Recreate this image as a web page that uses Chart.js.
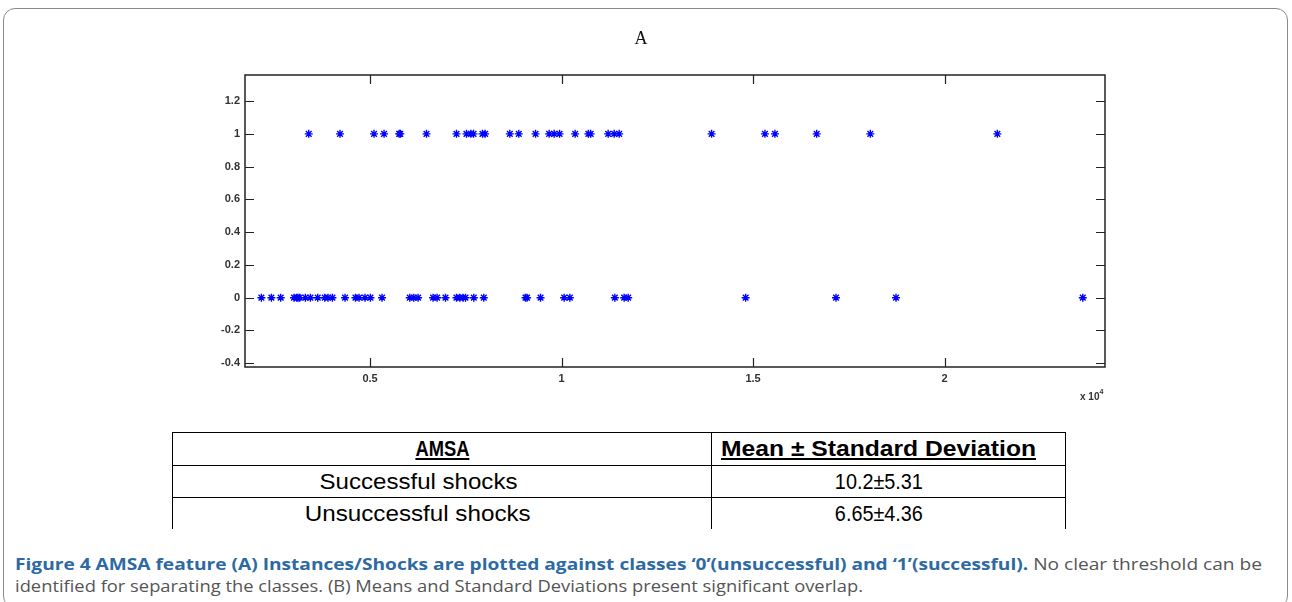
<!DOCTYPE html>
<html>
<head>
<meta charset="utf-8">
<script src="https://cdn.jsdelivr.net/npm/chart.js@4.4.1/dist/chart.umd.min.js"></script>
<style>
  html, body { margin:0; padding:0; background:#fff; }
  body { width:1292px; height:602px; position:relative; overflow:hidden; }
  #frame { position:absolute; left:3px; top:8px; width:1285px; height:600px; border:1px solid #8a8a8a; border-radius:12px; box-sizing:border-box; }
  #wrap { position:absolute; left:0; top:0; width:1292px; height:420px; }
  #title { position:absolute; top:28px; left:0; width:1282px; text-align:center; font-family:"Liberation Serif","DejaVu Serif",serif; font-size:18px; color:#111; }
  #x10 { position:absolute; left:1080px; top:390px; font-family:"Liberation Sans",Arial,sans-serif; font-size:10px; color:#333; font-weight:bold; }
  #x10 sup { font-size:7px; position:relative; top:-2px; }
  table { position:absolute; left:172px; top:432px; width:894px; border-collapse:collapse; font-family:"Liberation Sans",Arial,sans-serif; font-size:22px; color:#000; }
  td { border-left:1.5px solid #000; border-right:1.5px solid #000; text-align:center; padding:0; line-height:24px; }
  tr.h td { border-top:1.5px solid #000; border-bottom:1.5px solid #000; height:32px; font-weight:bold; }
  tr.h td span { text-decoration:underline; }
  tr.r1 td { border-bottom:1.5px solid #000; height:31px; }
  tr.r2 td { height:31px; }
  td.l { padding-right:48px; }
  td.v { padding-right:20px; }
  td.hv { padding-right:20px; }
  .fit { display:inline-block; transform-origin:center center; white-space:nowrap; }
  .cap { position:absolute; left:15px; font-family:"Open Sans","Noto Sans",sans-serif; font-size:16.5px; color:#555; white-space:nowrap; transform-origin:left top; }
  .cap b { color:#2d6aa3; }
</style>
</head>
<body>
<div id="frame"></div>
<div id="wrap"><canvas id="c" width="1292" height="420"></canvas></div>
<div id="title">A</div>
<div id="x10">x 10<sup>4</sup></div>
<table>
  <tr class="h"><td style="width:538px"><span class="fit" data-w="54">AMSA</span></td><td class="hv"><span class="fit" data-w="315">Mean ± Standard Deviation</span></td></tr>
  <tr class="r1"><td class="l"><span class="fit" data-w="198">Successful shocks</span></td><td class="v"><span class="fit" data-w="88">10.2±5.31</span></td></tr>
  <tr class="r2"><td class="l"><span class="fit" data-w="226">Unsuccessful shocks</span></td><td class="v"><span class="fit" data-w="88">6.65±4.36</span></td></tr>
</table>
<div class="cap" id="cap1" data-w="1247" style="top:552px"><b>Figure 4 AMSA feature (A) Instances/Shocks are plotted against classes ‘0’(unsuccessful) and ‘1’(successful).</b> No clear threshold can be</div>
<div class="cap" id="cap2" data-w="848" style="top:574px">identified for separating the classes. (B) Means and Standard Deviations present significant overlap.</div>
<script>
// Instances with class '1' (successful shocks): AMSA values
const successfulX = [3399, 4216, 5104, 5366, 5760, 5790, 6473, 7257, 7518, 7631, 7701, 7936, 8004, 8650, 8884,
  9321, 9676, 9807, 9948, 10355, 10700, 10760, 11217, 11374, 11505, 13918, 15311, 15572, 16662, 18062, 21379];
// Instances with class '0' (unsuccessful shocks): AMSA values
const unsuccessfulX = [2163, 2424, 2667, 3015, 3085, 3119, 3163, 3312, 3443, 3634, 3817, 3903, 4018, 4347, 4619,
  4713, 4869, 5010, 5313, 6037, 6142, 6254, 6646, 6750, 6970, 7257, 7343, 7429, 7492, 7709, 7970, 9060, 9100,
  9451, 10068, 10217, 11392, 11635, 11740, 14807, 17166, 18733, 23610];
const successfulClass = 1;
const unsuccessfulClass = 0;
const xTickValues = [5000, 10000, 15000, 20000];
const xTickLabels = ["0.5", "1", "1.5", "2"];
const yTickValues = [-0.4, -0.2, 0, 0.2, 0.4, 0.6, 0.8, 1, 1.2];
const yTickLabels = ["-0.4", "-0.2", "0", "0.2", "0.4", "0.6", "0.8", "1", "1.2"];
const xLimits = [1735, 24190];
const yLimits = [-0.423, 1.359];

// stretch text to the widths measured on the reference
document.querySelectorAll('.fit').forEach(el => {
  const w = el.getBoundingClientRect().width;
  el.style.transform = 'scaleX(' + (parseFloat(el.dataset.w) / w) + ')';
});
document.querySelectorAll('.cap').forEach(el => {
  const w = el.getBoundingClientRect().width;
  el.style.transform = 'scaleX(' + (parseFloat(el.dataset.w) / w) + ')';
});

const framePlugin = {
  id: 'frame',
  afterDatasetsDraw(chart) {
    const ctx = chart.ctx, a = chart.chartArea;
    const xs = chart.scales.x, ys = chart.scales.y;
    ctx.save();
    ctx.strokeStyle = '#222';
    ctx.lineWidth = 1.5;
    ctx.strokeRect(a.left, a.top, a.right - a.left, a.bottom - a.top);
    ctx.lineWidth = 1.2;
    ctx.beginPath();
    xTickValues.forEach(v => {
      const p = Math.round(xs.getPixelForValue(v)) + 0.5;
      ctx.moveTo(p, a.bottom); ctx.lineTo(p, a.bottom - 9);
      ctx.moveTo(p, a.top); ctx.lineTo(p, a.top + 9);
    });
    yTickValues.forEach(v => {
      const p = Math.round(ys.getPixelForValue(v)) + 0.5;
      ctx.moveTo(a.left, p); ctx.lineTo(a.left + 9, p);
      ctx.moveTo(a.right, p); ctx.lineTo(a.right - 9, p);
    });
    ctx.stroke();
    ctx.restore();
  }
};

const tickFont = { family: '"Liberation Sans", Arial, sans-serif', size: 11, weight: 'bold' };

new Chart(document.getElementById('c'), {
  type: 'scatter',
  data: {
    datasets: [
      { label: 'successful', data: successfulX.map(x => ({ x: x, y: successfulClass })) },
      { label: 'unsuccessful', data: unsuccessfulX.map(x => ({ x: x, y: unsuccessfulClass })) }
    ]
  },
  options: {
    responsive: false,
    animation: false,
    devicePixelRatio: 1,
    layout: { padding: { top: 75, right: 187, left: 0, bottom: 23 } },
    elements: { point: { pointStyle: 'star', radius: 4, borderColor: '#0000ff', backgroundColor: '#0000ff', borderWidth: 1.4 } },
    plugins: { legend: { display: false }, tooltip: { enabled: false }, title: { display: false } },
    scales: {
      x: {
        type: 'linear', min: xLimits[0], max: xLimits[1],
        grid: { display: false, drawTicks: false }, border: { display: false },
        afterBuildTicks: s => { s.ticks = xTickValues.map(v => ({ value: v })); },
        afterFit: s => { s.height = 30; },
        ticks: { padding: 5, color: '#333', font: tickFont, maxRotation: 0, autoSkip: false,
          callback: (v) => { const i = xTickValues.indexOf(v); return i >= 0 ? xTickLabels[i] : ''; } }
      },
      y: {
        type: 'linear', min: yLimits[0], max: yLimits[1],
        grid: { display: false, drawTicks: false }, border: { display: false },
        afterBuildTicks: s => { s.ticks = yTickValues.map(v => ({ value: v })); },
        afterFit: s => { s.width = 245; },
        ticks: { padding: 5, color: '#333', font: tickFont, autoSkip: false,
          callback: (v) => { const i = yTickValues.findIndex(t => Math.abs(t - v) < 1e-9); return i >= 0 ? yTickLabels[i] : ''; } }
      }
    }
  },
  plugins: [framePlugin]
});
</script>
</body>
</html>
